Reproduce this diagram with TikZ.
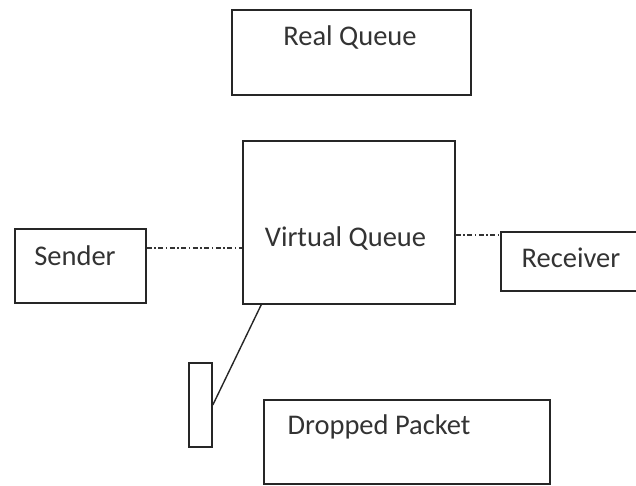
\documentclass[tikz,border=0pt]{standalone}
\usepackage{fontspec}
\setmainfont{Carlito}
\usepackage{xcolor}
\usetikzlibrary{calc}
\tikzset{
  box/.style={draw=black!85, line width=1.6pt, rectangle, inner sep=0pt},
  lbl/.style={text=black!80, font=\fontsize{28.5}{32}\selectfont, inner sep=0pt},
  dashdot line/.style={draw=black!80, line width=1.3pt,
    dash pattern=on 5pt off 2.5pt on 1.5pt off 2.5pt}
}

\begin{document}
\begin{tikzpicture}[x=1pt, y=-1pt]
\useasboundingbox (0,0) rectangle (636,485);
% boxes
\node[box, minimum width=239pt, minimum height=85pt] (real) at (351.5,52.5) {};
\node[box, minimum width=212pt, minimum height=163pt] (virt) at (349,222.5) {};
\node[box, minimum width=131pt, minimum height=74pt] (sender) at (80.5,266) {};
\node[box, minimum width=146pt, minimum height=59pt] (receiver) at (574,261.5) {};
\node[box, minimum width=286pt, minimum height=84pt] (dropped) at (407,442) {};
\node[box, minimum width=23pt, minimum height=84pt] (packet) at (200.5,405) {};
% texts
\node[lbl] (realtxt) at (350,37) {Real Queue};
\node[lbl] (virttxt) at (345.5,238) {Virtual Queue};
\node[lbl] (sendtxt) at (75,256) {Sender};
\node[lbl] (recvtxt) at (571,258) {Receiver};
\node[lbl] (droptxt) at (379,427) {Dropped Packet};
% connectors
\coordinate (s1) at (sender.east |- 0,248);
\coordinate (v1) at (virt.west |- 0,248);
\draw[dashdot line] (s1) -- (v1);
\coordinate (v2) at (virt.east |- 0,235);
\coordinate (r1) at (receiver.west |- 0,235);
\draw[dashdot line] (v2) -- (r1);
\draw[draw=black!85, line width=1.4pt] ($(virt.south west)+(19,0)$) -- (packet.east);
\end{tikzpicture}
\end{document}
